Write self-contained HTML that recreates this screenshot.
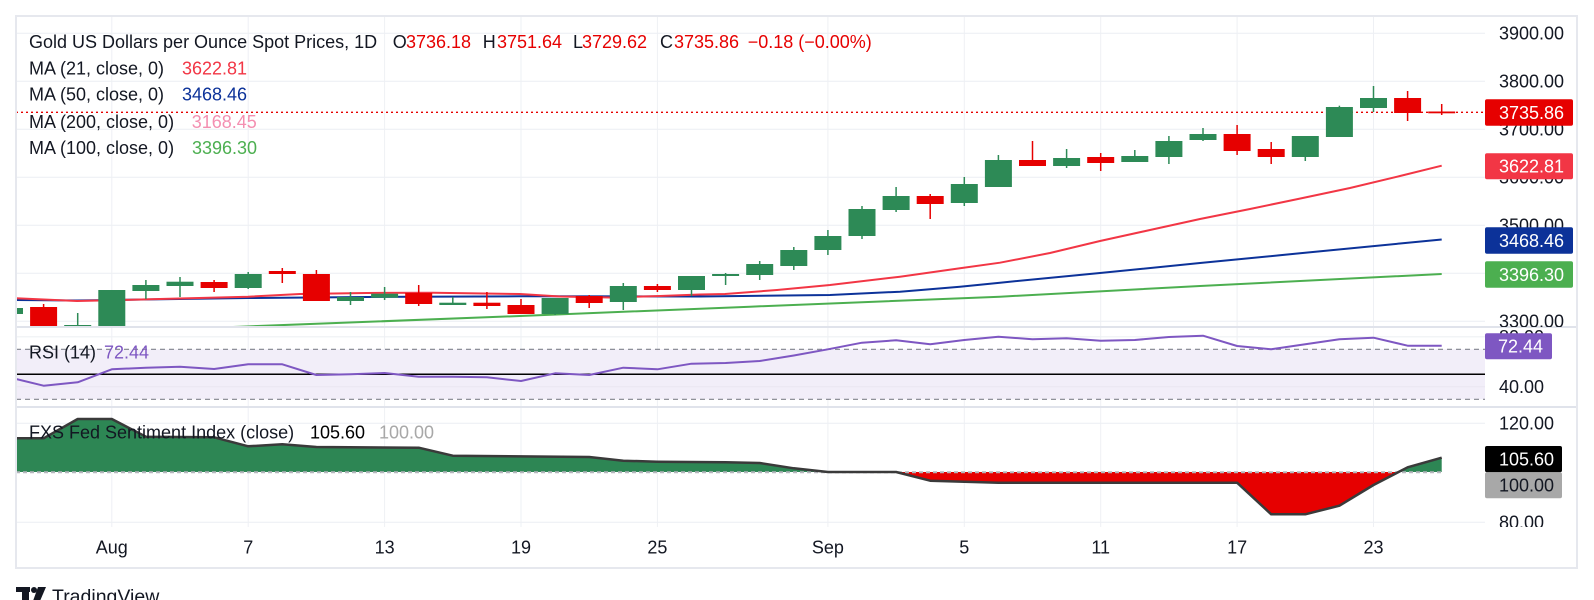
<!DOCTYPE html>
<html>
<head>
<meta charset="utf-8">
<style>
html,body{margin:0;padding:0;background:#fff;}
svg{display:block;}
text{font-family:"Liberation Sans",Arial,sans-serif;}
</style>
</head>
<body>
<svg width="1594" height="600" viewBox="0 0 1594 600" xmlns="http://www.w3.org/2000/svg">
<defs>
  <clipPath id="cp"><rect x="16" y="16" width="1469" height="311"/></clipPath>
  <clipPath id="cr"><rect x="16" y="327" width="1469" height="80"/></clipPath>
  <clipPath id="cf"><rect x="16" y="407" width="1469" height="120"/></clipPath>
  <clipPath id="cfg"><rect x="16" y="407" width="1469" height="65"/></clipPath>
  <clipPath id="cfr"><rect x="16" y="472" width="1469" height="55"/></clipPath>
  <clipPath id="cap"><rect x="1485" y="16" width="92" height="311"/></clipPath>
  <clipPath id="car"><rect x="1485" y="327" width="92" height="80"/></clipPath>
  <clipPath id="caf"><rect x="1485" y="407" width="92" height="120"/></clipPath>
</defs>
<rect x="0" y="0" width="1594" height="600" fill="#fff"/>

<!-- vertical grid -->
<g stroke="#eef0f4" stroke-width="1">
  <line x1="111.8" y1="16" x2="111.8" y2="527"/>
  <line x1="248.2" y1="16" x2="248.2" y2="527"/>
  <line x1="384.6" y1="16" x2="384.6" y2="527"/>
  <line x1="521" y1="16" x2="521" y2="527"/>
  <line x1="657.4" y1="16" x2="657.4" y2="527"/>
  <line x1="827.9" y1="16" x2="827.9" y2="527"/>
  <line x1="964.3" y1="16" x2="964.3" y2="527"/>
  <line x1="1100.7" y1="16" x2="1100.7" y2="527"/>
  <line x1="1237.1" y1="16" x2="1237.1" y2="527"/>
  <line x1="1373.5" y1="16" x2="1373.5" y2="527"/>
</g>
<!-- horizontal grid -->
<g stroke="#eef0f4" stroke-width="1.2">
  <line x1="16" y1="33.3" x2="1485" y2="33.3"/>
  <line x1="16" y1="81.3" x2="1485" y2="81.3"/>
  <line x1="16" y1="129.3" x2="1485" y2="129.3"/>
  <line x1="16" y1="177.3" x2="1485" y2="177.3"/>
  <line x1="16" y1="225.3" x2="1485" y2="225.3"/>
  <line x1="16" y1="273.3" x2="1485" y2="273.3"/>
  <line x1="16" y1="321.3" x2="1485" y2="321.3"/>
  <line x1="16" y1="336.8" x2="1485" y2="336.8"/>
  <line x1="16" y1="386.8" x2="1485" y2="386.8"/>
  <line x1="16" y1="423.3" x2="1485" y2="423.3"/>
  <line x1="16" y1="522.3" x2="1485" y2="522.3"/>
</g>

<!-- PRICE PANE -->
<g clip-path="url(#cp)">
  <!-- MA lines -->
  <polyline fill="none" stroke="#4caf50" stroke-width="2" points="16,335 240,326.7 520,316 750,306.7 1000,296.7 1200,286 1441.7,274"/>
  <polyline fill="none" stroke="#0c3299" stroke-width="2" points="16,300 77,300.5 248,298 367,297 520,296.3 700,296.5 830,295 900,291.7 960,286.7 1000,282.7 1100,273 1200,263 1300,253.3 1400,243.5 1441.7,239.5"/>
  <polyline fill="none" stroke="#f23645" stroke-width="2" points="16,298.3 77,301 150,299.3 248,296.7 300,294 367,293 433,292.7 520,294 560,296.5 610,297.5 660,296 700,294.5 725,294 777,290 830,285 900,276.7 960,268.3 1000,262.7 1050,253 1100,241 1150,230 1200,219 1250,209 1298,199 1350,188 1400,176 1441.7,165.7"/>

  <!-- price line -->
  <line x1="16" y1="112.3" x2="1485" y2="112.3" stroke="#e60000" stroke-width="1.3" stroke-dasharray="2 3"/>

  <!-- green candles -->
  <g fill="#2d8a56" stroke="#2d8a56" stroke-width="1.5">
    <line x1="9.5" y1="305" x2="9.5" y2="316"/><rect x="-4" y="308" width="27" height="6" stroke="none"/>
    <line x1="77.7" y1="313" x2="77.7" y2="330"/><rect x="64.2" y="325" width="27" height="5" stroke="none"/>
    <line x1="111.8" y1="290" x2="111.8" y2="328"/><rect x="98.3" y="290" width="27" height="37" stroke="none"/>
    <line x1="145.9" y1="280" x2="145.9" y2="299"/><rect x="132.4" y="285" width="27" height="6" stroke="none"/>
    <line x1="180" y1="277" x2="180" y2="297"/><rect x="166.5" y="281.7" width="27" height="4.3" stroke="none"/>
    <line x1="248.2" y1="272" x2="248.2" y2="289"/><rect x="234.7" y="274" width="27" height="14" stroke="none"/>
    <line x1="350.5" y1="292" x2="350.5" y2="305"/><rect x="337" y="297" width="27" height="4" stroke="none"/>
    <line x1="384.6" y1="287" x2="384.6" y2="300"/><rect x="371.1" y="293.7" width="27" height="4" stroke="none"/>
    <line x1="452.8" y1="297" x2="452.8" y2="305"/><rect x="439.3" y="302.7" width="27" height="2.3" stroke="none"/>
    <line x1="555.1" y1="298" x2="555.1" y2="315"/><rect x="541.6" y="298" width="27" height="16" stroke="none"/>
    <line x1="623.3" y1="283" x2="623.3" y2="310"/><rect x="609.8" y="286" width="27" height="16" stroke="none"/>
    <line x1="691.5" y1="276" x2="691.5" y2="296"/><rect x="678" y="276" width="27" height="14" stroke="none"/>
    <line x1="725.6" y1="273" x2="725.6" y2="285"/><rect x="712.1" y="274" width="27" height="2" stroke="none"/>
    <line x1="759.7" y1="261" x2="759.7" y2="280"/><rect x="746.2" y="264" width="27" height="11" stroke="none"/>
    <line x1="793.8" y1="247" x2="793.8" y2="270"/><rect x="780.3" y="250" width="27" height="16" stroke="none"/>
    <line x1="827.9" y1="230" x2="827.9" y2="255"/><rect x="814.4" y="236" width="27" height="14" stroke="none"/>
    <line x1="862" y1="206" x2="862" y2="239"/><rect x="848.5" y="209" width="27" height="27" stroke="none"/>
    <line x1="896.1" y1="187" x2="896.1" y2="212"/><rect x="882.6" y="196" width="27" height="14" stroke="none"/>
    <line x1="964.3" y1="177" x2="964.3" y2="206"/><rect x="950.8" y="184" width="27" height="19" stroke="none"/>
    <line x1="998.4" y1="155" x2="998.4" y2="187"/><rect x="984.9" y="160" width="27" height="27" stroke="none"/>
    <line x1="1066.6" y1="149" x2="1066.6" y2="168"/><rect x="1053.1" y="158" width="27" height="8" stroke="none"/>
    <line x1="1134.8" y1="150" x2="1134.8" y2="162"/><rect x="1121.3" y="156" width="27" height="6" stroke="none"/>
    <line x1="1168.9" y1="136" x2="1168.9" y2="164"/><rect x="1155.4" y="141" width="27" height="16" stroke="none"/>
    <line x1="1203" y1="128" x2="1203" y2="141"/><rect x="1189.5" y="134" width="27" height="6" stroke="none"/>
    <line x1="1305.3" y1="136" x2="1305.3" y2="161"/><rect x="1291.8" y="136" width="27" height="21" stroke="none"/>
    <line x1="1339.4" y1="105.7" x2="1339.4" y2="137"/><rect x="1325.9" y="107" width="27" height="30" stroke="none"/>
    <line x1="1373.5" y1="86" x2="1373.5" y2="112"/><rect x="1360" y="98" width="27" height="10" stroke="none"/>
  </g>
  <!-- red candles -->
  <g fill="#e60000" stroke="#e60000" stroke-width="1.5">
    <line x1="43.6" y1="304" x2="43.6" y2="330"/><rect x="30.1" y="307" width="27" height="23" stroke="none"/>
    <line x1="214.1" y1="280" x2="214.1" y2="292"/><rect x="200.6" y="282" width="27" height="6" stroke="none"/>
    <line x1="282.3" y1="268" x2="282.3" y2="283"/><rect x="268.8" y="271" width="27" height="3" stroke="none"/>
    <line x1="316.4" y1="270" x2="316.4" y2="301"/><rect x="302.9" y="274" width="27" height="27" stroke="none"/>
    <line x1="418.7" y1="285" x2="418.7" y2="306"/><rect x="405.2" y="293" width="27" height="11" stroke="none"/>
    <line x1="486.9" y1="292" x2="486.9" y2="309"/><rect x="473.4" y="302.7" width="27" height="3.3" stroke="none"/>
    <line x1="521" y1="299" x2="521" y2="314"/><rect x="507.5" y="305" width="27" height="9" stroke="none"/>
    <line x1="589.2" y1="295" x2="589.2" y2="308"/><rect x="575.7" y="296" width="27" height="7" stroke="none"/>
    <line x1="657.4" y1="284" x2="657.4" y2="292"/><rect x="643.9" y="286" width="27" height="4" stroke="none"/>
    <line x1="930.2" y1="194" x2="930.2" y2="219"/><rect x="916.7" y="196" width="27" height="8" stroke="none"/>
    <line x1="1032.5" y1="141" x2="1032.5" y2="166"/><rect x="1019" y="160" width="27" height="6" stroke="none"/>
    <line x1="1100.7" y1="153" x2="1100.7" y2="171"/><rect x="1087.2" y="157" width="27" height="6" stroke="none"/>
    <line x1="1237.1" y1="125" x2="1237.1" y2="155"/><rect x="1223.6" y="134" width="27" height="17" stroke="none"/>
    <line x1="1271.2" y1="142" x2="1271.2" y2="164"/><rect x="1257.7" y="149" width="27" height="8" stroke="none"/>
    <line x1="1407.6" y1="91" x2="1407.6" y2="121"/><rect x="1394.1" y="98" width="27" height="15" stroke="none"/>
    <line x1="1441.7" y1="104" x2="1441.7" y2="115"/><rect x="1428.2" y="111.5" width="27" height="1.8" stroke="none"/>
  </g>
</g>

<!-- RSI PANE -->
<g clip-path="url(#cr)">
  <rect x="16" y="349.3" width="1469" height="50" fill="#f2eef9"/>
  <line x1="16" y1="386.8" x2="1485" y2="386.8" stroke="#e9e6f1" stroke-width="1"/>
  <line x1="16" y1="349.3" x2="1485" y2="349.3" stroke="#80838c" stroke-width="1.2" stroke-dasharray="5 4"/>
  <line x1="16" y1="399.3" x2="1485" y2="399.3" stroke="#80838c" stroke-width="1.2" stroke-dasharray="5 4"/>
  <line x1="16" y1="374.3" x2="1485" y2="374.3" stroke="#000" stroke-width="1.5"/>
  <polyline fill="none" stroke="#7e57c2" stroke-width="2" stroke-linejoin="round" points="16,379 43.6,385.7 77.7,382.3 111.8,369.3 145.9,367.7 180,366.7 214.1,369 248.2,364.3 282.3,364.3 316.4,375 350.5,374.3 384.6,373 418.7,376.7 452.8,376.7 486.9,377.3 521,381 555.1,373.3 589.2,375 623.3,367.7 657.4,369.3 691.5,363.7 725.6,363 759.7,361 793.8,355.5 827.9,349.3 862,342.7 896.1,340.3 930.2,344.3 964.3,340 998.4,336.7 1032.5,339.3 1066.6,338.3 1100.7,340.7 1134.8,340 1168.9,337 1203,335.7 1237.1,346 1271.2,349.3 1305.3,344.3 1339.4,339.3 1373.5,337.7 1407.6,345.7 1441.7,345.7"/>
</g>

<!-- FED PANE -->
<g clip-path="url(#cf)">
  <g clip-path="url(#cfg)">
    <polygon fill="#2d8654" points="16,438.3 43.6,438.3 77.7,419 111.8,419 145.9,436.7 214.1,437.3 248.2,446.3 282.3,444.3 316.4,447 418.7,447.7 452.8,455.7 589.2,457 623.3,460.7 657.4,461.7 725.6,462.3 759.7,463 793.8,468.3 827.9,472 896.1,472 930.2,480.7 998.4,482.7 1237.1,482.7 1271.2,514.3 1305.3,514.3 1339.4,505.7 1373.5,485 1407.6,467.3 1441.7,457.7 1441.7,472 16,472"/>
  </g>
  <g clip-path="url(#cfr)">
    <polygon fill="#e60000" points="16,438.3 43.6,438.3 77.7,419 111.8,419 145.9,436.7 214.1,437.3 248.2,446.3 282.3,444.3 316.4,447 418.7,447.7 452.8,455.7 589.2,457 623.3,460.7 657.4,461.7 725.6,462.3 759.7,463 793.8,468.3 827.9,472 896.1,472 930.2,480.7 998.4,482.7 1237.1,482.7 1271.2,514.3 1305.3,514.3 1339.4,505.7 1373.5,485 1407.6,467.3 1441.7,457.7 1441.7,472 16,472"/>
  </g>
  <line x1="16" y1="472.3" x2="1441.7" y2="472.3" stroke="#b4b6bc" stroke-width="2" stroke-dasharray="4 3"/>
  <polyline fill="none" stroke="#3a3a3a" stroke-width="2.5" stroke-linejoin="round" points="16,438.3 43.6,438.3 77.7,419 111.8,419 145.9,436.7 214.1,437.3 248.2,446.3 282.3,444.3 316.4,447 418.7,447.7 452.8,455.7 589.2,457 623.3,460.7 657.4,461.7 725.6,462.3 759.7,463 793.8,468.3 827.9,472 896.1,472 930.2,480.7 998.4,482.7 1237.1,482.7 1271.2,514.3 1305.3,514.3 1339.4,505.7 1373.5,485 1407.6,467.3 1441.7,457.7"/>
</g>

<!-- pane separators and frame -->
<line x1="16" y1="327" x2="1577" y2="327" stroke="#e0e3eb" stroke-width="2"/>
<line x1="16" y1="407" x2="1577" y2="407" stroke="#e0e3eb" stroke-width="2"/>
<rect x="16" y="16" width="1561" height="552" fill="none" stroke="#e6e8ee" stroke-width="2"/>

<!-- legends -->
<g font-size="18" fill="#131722">
  <text x="29" y="48.1">Gold US Dollars per Ounce Spot Prices, 1D</text>
  <text x="392.7" y="48.1">O</text><text x="406" y="48.1" fill="#e60000">3736.18</text>
  <text x="482.7" y="48.1">H</text><text x="497" y="48.1" fill="#e60000">3751.64</text>
  <text x="573" y="48.1">L</text><text x="582" y="48.1" fill="#e60000">3729.62</text>
  <text x="660" y="48.1">C</text><text x="674" y="48.1" fill="#e60000">3735.86</text>
  <text x="747.7" y="48.1" fill="#e60000">−0.18 (−0.00%)</text>

  <text x="29" y="74.7">MA (21, close, 0)</text><text x="182" y="74.7" fill="#f23645">3622.81</text>
  <text x="29" y="100.4">MA (50, close, 0)</text><text x="182" y="100.4" fill="#0c3299">3468.46</text>
  <text x="29" y="128">MA (200, close, 0)</text><text x="191.7" y="128" fill="#f48fb1">3168.45</text>
  <text x="29" y="154">MA (100, close, 0)</text><text x="192" y="154" fill="#4caf50">3396.30</text>

  <text x="29" y="358.7">RSI (14)</text><text x="104" y="358.7" fill="#7e57c2">72.44</text>

  <text x="29" y="438.7">FXS Fed Sentiment Index (close)</text>
  <text x="310" y="438.7" fill="#000">105.60</text>
  <text x="379" y="438.7" fill="#a8a8a8">100.00</text>
</g>

<!-- price axis labels -->
<g font-size="18" fill="#131722">
  <g clip-path="url(#cap)">
    <text x="1499" y="39.7">3900.00</text>
    <text x="1499" y="87.7">3800.00</text>
    <text x="1499" y="135.7">3700.00</text>
    <text x="1499" y="183.7">3600.00</text>
    <text x="1499" y="231.7">3500.00</text>
    <text x="1499" y="279.7">3400.00</text>
    <text x="1499" y="327.7">3300.00</text>
  </g>
  <g clip-path="url(#car)">
    <text x="1499" y="343.2">80.00</text>
    <text x="1499" y="393.2">40.00</text>
  </g>
  <g clip-path="url(#caf)">
    <text x="1499" y="429.7">120.00</text>
    <text x="1499" y="528.7">80.00</text>
  </g>
</g>

<!-- axis value boxes -->
<g font-size="18">
  <rect x="1485" y="99.3" width="88" height="26.4" rx="2" fill="#e60000"/>
  <text x="1499" y="118.9" fill="#fff">3735.86</text>
  <rect x="1485" y="153.3" width="88" height="26" rx="2" fill="#f23645"/>
  <text x="1499" y="172.7" fill="#fff">3622.81</text>
  <rect x="1485" y="227.3" width="88" height="26.4" rx="2" fill="#0c3299"/>
  <text x="1499" y="246.9" fill="#fff">3468.46</text>
  <rect x="1485" y="261.3" width="88" height="26.4" rx="2" fill="#4caf50"/>
  <text x="1499" y="280.9" fill="#fff">3396.30</text>
  <rect x="1485" y="333.3" width="67" height="26" rx="2" fill="#7e57c2"/>
  <text x="1498" y="352.7" fill="#fff">72.44</text>
  <rect x="1485" y="446" width="77" height="26.3" rx="2" fill="#000"/>
  <text x="1499" y="465.6" fill="#fff">105.60</text>
  <rect x="1485" y="472.3" width="77" height="26" rx="2" fill="#a8a8a8"/>
  <text x="1499" y="491.7" fill="#131722">100.00</text>
</g>

<!-- time axis labels -->
<g font-size="18" fill="#131722" text-anchor="middle">
  <text x="111.8" y="553.5">Aug</text>
  <text x="248.2" y="553.5">7</text>
  <text x="384.6" y="553.5">13</text>
  <text x="521" y="553.5">19</text>
  <text x="657.4" y="553.5">25</text>
  <text x="827.9" y="553.5">Sep</text>
  <text x="964.3" y="553.5">5</text>
  <text x="1100.7" y="553.5">11</text>
  <text x="1237.1" y="553.5">17</text>
  <text x="1373.5" y="553.5">23</text>
</g>

<!-- TradingView logo -->
<g fill="#131722">
  <rect x="16" y="587" width="14" height="5"/>
  <rect x="22" y="587" width="7" height="14"/>
  <circle cx="34" cy="590" r="3"/>
  <polygon points="38,587 46,587 40,601 33,601"/>
  <text x="52" y="603" font-size="19.5">TradingView</text>
</g>
</svg>
</body>
</html>
